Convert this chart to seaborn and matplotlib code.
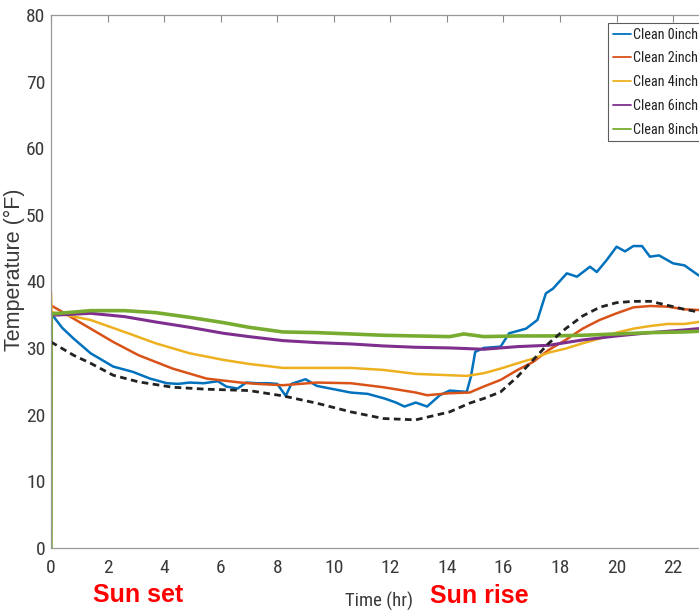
import os
import matplotlib
matplotlib.use("Agg")
import matplotlib.pyplot as plt
import matplotlib.font_manager as fm
from matplotlib.font_manager import FontProperties
import seaborn as sns
import pandas as pd

# ---------------- data ----------------
labels = ["Clean 0inch", "Clean 2inch", "Clean 4inch", "Clean 6inch", "Clean 8inch"]
colors = ["#0072BD", "#D95319", "#EDB120", "#7E2F8E", "#77AC30"]

t_clean0 = [0, 0.4, 0.8, 1.4, 2.2, 2.9, 3.5, 4.1, 4.5, 4.9, 5.4, 5.9, 6.2, 6.6, 6.9, 7.3, 7.7,
            8.0, 8.3, 8.5, 9.0, 9.4, 10.0, 10.6, 11.2, 11.8, 12.2, 12.5, 12.9, 13.3, 13.75,
            14.1, 14.4, 14.7, 14.85, 15.0, 15.3, 15.9, 16.2, 16.8, 17.2, 17.5, 17.75, 18.24,
            18.6, 19.06, 19.3, 19.65, 20.0, 20.3, 20.59, 20.9, 21.18, 21.5, 22.0, 22.4, 22.9, 23.3]
v_clean0 = [35.2, 33.0, 31.4, 29.2, 27.2, 26.4, 25.4, 24.7, 24.6, 24.8, 24.7, 25.0, 24.2, 23.9,
            24.8, 24.7, 24.7, 24.6, 22.8, 24.6, 25.3, 24.3, 23.8, 23.3, 23.1, 22.4, 21.8, 21.2,
            21.8, 21.2, 22.9, 23.6, 23.5, 23.4, 25.7, 29.4, 30.0, 30.2, 32.2, 32.9, 34.2, 38.2,
            38.9, 41.2, 40.7, 42.2, 41.4, 43.2, 45.2, 44.5, 45.3, 45.3, 43.7, 43.9, 42.7, 42.4,
            40.9, 40.5]

t_clean2 = [0, 0.8, 1.4, 2.2, 3.1, 4.3, 5.5, 6.7, 7.3, 8.2, 9.4, 10.6, 11.75, 12.9, 13.3, 14.1,
            14.8, 15.3, 15.9, 16.5, 17.05, 17.6, 18.2, 18.8, 19.4, 20.0, 20.6, 21.2, 21.8, 22.4,
            22.9, 23.5]
v_clean2 = [36.4, 34.4, 32.9, 30.9, 28.9, 26.9, 25.4, 24.8, 24.6, 24.4, 24.8, 24.7, 24.1, 23.3,
            22.9, 23.2, 23.3, 24.2, 25.2, 26.7, 27.9, 29.7, 31.2, 32.9, 34.2, 35.2, 36.1, 36.3,
            36.2, 35.8, 35.7, 35.6]

t_clean4 = [0, 0.02, 1.4, 2.6, 3.7, 4.9, 6.1, 7.0, 8.2, 9.4, 10.6, 11.75, 12.9, 14.1, 14.7, 15.3,
            15.9, 16.5, 17.05, 17.6, 18.2, 18.8, 19.4, 20.0, 20.6, 21.2, 21.8, 22.4, 22.9, 23.5]
v_clean4 = [38.5, 35.4, 34.2, 32.4, 30.7, 29.2, 28.2, 27.6, 27.0, 27.0, 27.0, 26.7, 26.1, 25.9,
            25.8, 26.2, 26.9, 27.7, 28.4, 29.3, 29.9, 30.7, 31.4, 32.3, 32.9, 33.3, 33.6, 33.6,
            33.9, 34.0]

t_clean6 = [0, 1.4, 2.6, 3.7, 4.9, 6.1, 7.0, 8.2, 9.4, 10.6, 11.75, 12.9, 14.1, 15.3, 16.5,
            17.6, 18.8, 20.0, 21.2, 22.4, 22.9, 23.5]
v_clean6 = [34.9, 35.2, 34.7, 33.9, 33.1, 32.2, 31.7, 31.1, 30.8, 30.6, 30.3, 30.1, 30.0, 29.8,
            30.2, 30.4, 31.2, 31.8, 32.3, 32.7, 32.9, 33.0]

t_clean8 = [0, 0.01, 1.4, 2.6, 3.7, 4.9, 6.1, 7.0, 8.2, 9.4, 10.6, 11.75, 12.9, 14.1, 14.6,
            15.3, 16.5, 17.6, 18.8, 20.0, 21.2, 22.4, 22.9, 23.5]
v_clean8 = [0, 35.1, 35.6, 35.6, 35.3, 34.6, 33.8, 33.1, 32.4, 32.3, 32.1, 31.9, 31.8, 31.7,
            32.1, 31.7, 31.8, 31.8, 31.9, 32.1, 32.3, 32.4, 32.5, 32.6]

t_air = [0, 0.8, 1.4, 2.2, 3.1, 4.3, 5.5, 7.0, 8.2, 9.4, 10.6, 11.75, 12.9, 14.1, 14.8, 15.3,
         15.9, 16.5, 17.05, 17.6, 18.2, 18.8, 19.4, 20.0, 20.6, 21.2, 21.8, 22.4, 22.9, 23.5]
v_air = [30.9, 28.9, 27.7, 25.9, 24.9, 24.1, 23.8, 23.6, 22.8, 21.7, 20.4, 19.4, 19.2, 20.4,
         21.7, 22.4, 23.4, 25.7, 28.2, 30.7, 32.9, 34.8, 36.1, 36.8, 37.0, 37.0, 36.4, 35.8,
         35.4, 35.0]

x_ticks = list(range(0, 23, 2))
y_ticks = list(range(0, 81, 10))

# ---------------- fonts ----------------
def find_condensed():
    keys = ["LiberationSansNarrow-Regular", "RobotoCondensed-Regular", "DejaVuSansCondensed.ttf",
            "Condensed-Regular", "Narrow-Regular", "Condensed.ttf", "Narrow.ttf"]
    bad = ("Bold", "Italic", "Oblique", "Light", "Thin", "Black", "Medium", "Semi", "Mono", "Serif")
    files = [f.fname for f in fm.fontManager.ttflist]
    for k in keys:
        for p in files:
            b = os.path.basename(p)
            if k in b and not any(x in b for x in bad):
                return p
    return None

cond = find_condensed()
if cond:
    fp_tick = FontProperties(fname=cond, size=14)
    fp_xlab = FontProperties(fname=cond, size=13.5)
    fp_leg = FontProperties(fname=cond, size=10.3)
else:
    fp_tick = FontProperties(family=["Liberation Sans", "DejaVu Sans"], size=12)
    fp_xlab = FontProperties(family=["Liberation Sans", "DejaVu Sans"], size=11.5)
    fp_leg = FontProperties(family=["Liberation Sans", "DejaVu Sans"], size=9.2)

# ---------------- plot ----------------
sns.set_style("white")
plt.rcParams["font.family"] = ["Liberation Sans", "DejaVu Sans"]

fig = plt.figure(figsize=(6.99, 6.13), dpi=100)
ax = fig.add_axes([51 / 699, 65.3 / 613, 678.7 / 699, 532.7 / 613])

series = [(t_clean0, v_clean0), (t_clean2, v_clean2), (t_clean4, v_clean4),
          (t_clean6, v_clean6), (t_clean8, v_clean8)]
widths = [1.8, 1.8, 1.8, 2.2, 2.6]
for (tt, vv), lab, col, lw in zip(series, labels, colors, widths):
    df = pd.DataFrame({"t": tt, "T": vv})
    sns.lineplot(data=df, x="t", y="T", color=col, label=lab, linewidth=lw,
                 estimator=None, sort=False, ax=ax)

df_air = pd.DataFrame({"t": t_air, "T": v_air})
sns.lineplot(data=df_air, x="t", y="T", color="#222222", linewidth=2.0,
             estimator=None, sort=False, ax=ax, label="_nolegend_")
ax.lines[-1].set_linestyle((0, (2.4, 1.6)))

ax.set_xlim(0, 24)
ax.set_ylim(0, 80)
ax.set_xticks(x_ticks)
ax.set_yticks(y_ticks)
ax.tick_params(direction="in", length=5, width=0.8, color="#888888",
               labelcolor="#3a3a3a", top=True, right=True)
ax.tick_params(axis="x", pad=8)
ax.tick_params(axis="y", pad=4)
for lab in ax.get_xticklabels() + ax.get_yticklabels():
    lab.set_fontproperties(fp_tick)
for s in ax.spines.values():
    s.set_color("#999999")
    s.set_linewidth(0.9)

ax.set_xlabel("Time (hr)", fontproperties=fp_xlab, color="#3a3a3a")
ax.xaxis.set_label_coords(0.483, -0.082)
ax.set_ylabel("Temperature (°F)", fontsize=15.5, color="#3a3a3a",
              family=["Liberation Sans", "DejaVu Sans"])
ax.yaxis.set_label_coords(-0.039, 0.522)

leg = ax.legend(loc="upper left", bbox_to_anchor=(608 / 699, 590 / 613),
                bbox_transform=fig.transFigure, frameon=True, prop=fp_leg,
                handlelength=1.25, handletextpad=0.15, borderpad=0.33,
                labelspacing=0.68, fancybox=False, borderaxespad=0)
leg.get_frame().set_edgecolor("#333333")
leg.get_frame().set_linewidth(0.8)
for line in leg.get_lines():
    line.set_linewidth(1.3)
for txt in leg.get_texts():
    txt.set_color("#222222")

fig.text(138 / 699, (613 - 601.7) / 613, "Sun set", color="#FF0000", fontsize=18,
         fontweight="bold", ha="center", va="baseline",
         family=["Liberation Sans", "DejaVu Sans"])
fig.text(479 / 699, (613 - 603) / 613, "Sun rise", color="#FF0000", fontsize=18,
         fontweight="bold", ha="center", va="baseline",
         family=["Liberation Sans", "DejaVu Sans"])

fig.savefig("out.png", dpi=100)
